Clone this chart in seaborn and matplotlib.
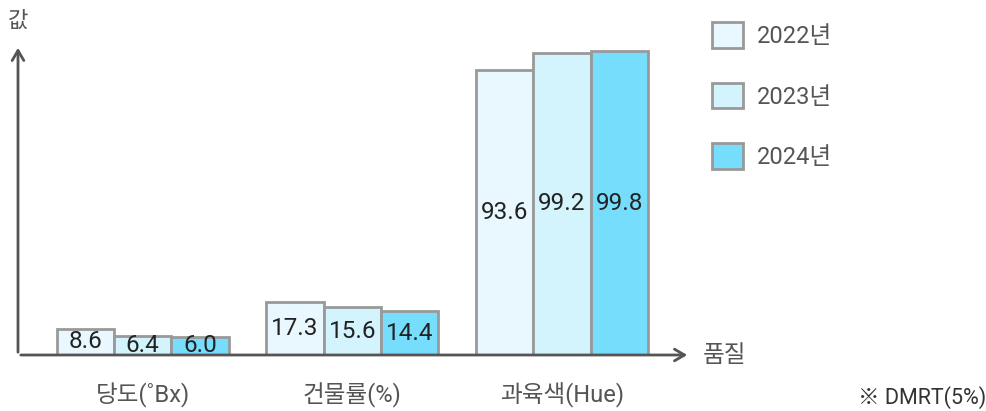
import matplotlib
matplotlib.use("Agg")
import matplotlib.pyplot as plt
import seaborn as sns
import pandas as pd

categories = ["당도(˚Bx)", "건물률(%)", "과육색(Hue)"]
years = ["2022년", "2023년", "2024년"]
v2022 = [8.6, 17.3, 93.6]
v2023 = [6.4, 15.6, 99.2]
v2024 = [6.0, 14.4, 99.8]
colors = ["#E8F8FE", "#D3F3FD", "#77DDFC"]

rows = []
for yr, vals in zip(years, [v2022, v2023, v2024]):
    for c, v in zip(categories, vals):
        rows.append({"항목": c, "연도": yr, "값": v})
df = pd.DataFrame(rows)

sns.set_theme(style="white")
plt.rcParams["font.family"] = ["Roboto", "Noto Sans CJK KR", "DejaVu Sans"]

W, H = 987, 411
fig = plt.figure(figsize=(W / 100, H / 100), dpi=100)
ax = fig.add_axes([18 / W, 56 / H, (690 - 18) / W, 310 / H])

sns.barplot(data=df, x="항목", y="값", hue="연도", palette=colors,
            edgecolor="#999999", linewidth=2, width=0.82, ax=ax,
            legend=False, saturation=1)

ax.set_xlim(-0.5936, 2.610)
ax.set_ylim(0, 310 / 3.046)
for s in ax.spines.values():
    s.set_visible(False)
ax.set_yticks([])
ax.set_xlabel("")
ax.set_ylabel("")
ax.tick_params(axis="x", length=0, pad=20, labelsize=17, labelcolor="#555555")

for cont in ax.containers:
    ax.bar_label(cont, fmt="%.1f", label_type="center", fontsize=17.5, color="#222222")

# axis arrows
ax.annotate("", xy=(1.0, 0), xytext=(0, 0), xycoords="axes fraction",
            arrowprops=dict(arrowstyle="->,head_length=0.6,head_width=0.35", color="#555555", lw=2),
            annotation_clip=False)
ax.annotate("", xy=(0, 1.0), xytext=(0, 0), xycoords="axes fraction",
            arrowprops=dict(arrowstyle="->,head_length=0.6,head_width=0.35", color="#555555", lw=2),
            annotation_clip=False)

fig.text(18 / W, 1 - 21 / H, "값", ha="center", va="center", fontsize=16, color="#555555")
fig.text(703 / W, 1 - 355 / H, "품질", ha="left", va="center", fontsize=17, color="#555555")
fig.text(986 / W, 1 - 398 / H, "※ DMRT(5%)", ha="right", va="center", fontsize=15.5, color="#333333")

handles = [plt.Rectangle((0, 0), 1, 1, facecolor=c, edgecolor="#999999", linewidth=2) for c in colors]
leg = fig.legend(handles, years, loc="upper left", bbox_to_anchor=(712 / W, 1 - 22 / H),
                 frameon=False, fontsize=17, handlelength=1.3, handleheight=1.3,
                 labelspacing=1.48, handletextpad=0.6, borderaxespad=0, borderpad=0)
for t in leg.get_texts():
    t.set_color("#555555")

fig.savefig("out.png", dpi=100)
